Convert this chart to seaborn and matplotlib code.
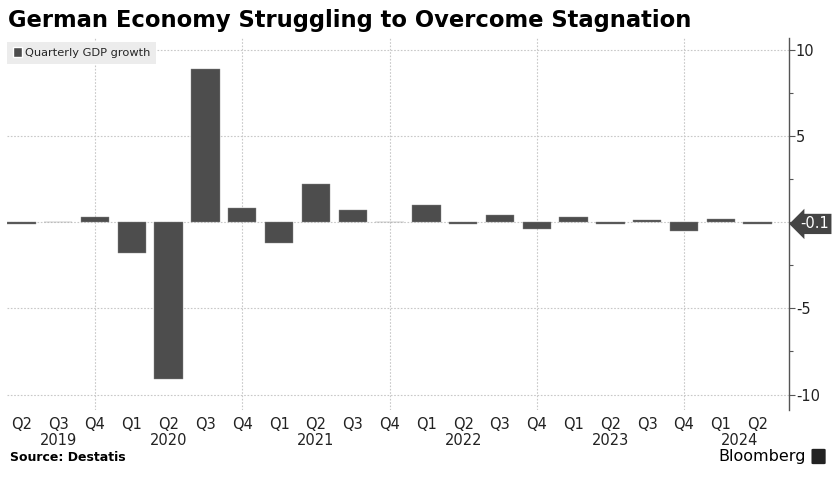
import numpy as np
import pandas as pd
import matplotlib
matplotlib.use('Agg')
import matplotlib.pyplot as plt
import seaborn as sns
from matplotlib.patches import Patch, FancyBboxPatch
from matplotlib.ticker import MultipleLocator
import matplotlib.transforms as mtransforms

# quarterly GDP growth, Q2 2019 .. Q2 2024
quarters = ['Q2', 'Q3', 'Q4',
            'Q1', 'Q2', 'Q3', 'Q4',
            'Q1', 'Q2', 'Q3', 'Q4',
            'Q1', 'Q2', 'Q3', 'Q4',
            'Q1', 'Q2', 'Q3', 'Q4',
            'Q1', 'Q2']
growth = [-0.1, 0.0, 0.3,
          -1.8, -9.1, 8.9, 0.8,
          -1.2, 2.2, 0.7, 0.0,
          1.0, -0.1, 0.4, -0.4,
          0.3, -0.1, 0.1, -0.5,
          0.2, -0.1]
years = ['2019', '2020', '2021', '2022', '2023', '2024']
year_pos = [1, 4, 8, 12, 16, 19.5]
q4_pos = [2, 6, 10, 14, 18]

df = pd.DataFrame({'idx': range(len(growth)), 'growth': growth})

sns.set_style('white')
plt.rcParams['font.family'] = ['DejaVu Sans']

fig = plt.figure(figsize=(8.34, 4.79), dpi=100)
ax = fig.add_axes([0.0084, 0.144, 0.946 - 0.0084, 0.921 - 0.144])

bar_col = '#4d4d4d'
sns.barplot(data=df, x='idx', y='growth', color=bar_col, width=0.77,
            edgecolor='#8a8a8a', linewidth=0.3, saturation=1, ax=ax)

ax.set_xlim(-0.39, 20.85)
ax.set_ylim(-10.9, 10.7)

# grid
for y in [-10, -5, 0, 5, 10]:
    ax.axhline(y, color='#c8c8c8', lw=0.8, ls=(0, (1.5, 1.5)), zorder=0)
for x in q4_pos:
    ax.axvline(x, color='#c8c8c8', lw=0.8, ls=(0, (1.5, 1.5)), zorder=0)

# spines
for s in ['top', 'left', 'bottom']:
    ax.spines[s].set_visible(False)
ax.spines['right'].set_color('#555555')
ax.spines['right'].set_linewidth(1.0)

ax.yaxis.tick_right()
ax.yaxis.set_major_locator(MultipleLocator(5))
ax.yaxis.set_minor_locator(MultipleLocator(2.5))
ax.tick_params(axis='y', which='major', direction='out', length=4, width=0.8,
               color='#555555', labelsize=10.5, labelcolor='#222222', pad=1)
ax.tick_params(axis='y', which='minor', direction='out', length=3, width=0.8,
               color='#555555')
ax.set_yticks([-10, -5, 0, 5, 10])
ax.set_yticklabels(['-10', '-5', '', '5', '10'])

ax.set_xticks(range(len(quarters)))
ax.set_xticklabels(quarters)
ax.tick_params(axis='x', length=0, labelsize=10.5, labelcolor='#222222', pad=5)
ax.set_xlabel('')
ax.set_ylabel('')

# year labels
trans = mtransforms.blended_transform_factory(ax.transData, ax.transAxes)
for yr, p in zip(years, year_pos):
    ax.text(p, -0.082, yr, transform=trans, ha='center', va='center',
            fontsize=10.5, color='#222222')

# last value tag
ax.annotate('-0.1', xy=(1.0, growth[-1]), xycoords=('axes fraction', 'data'),
            xytext=(8, 0), textcoords='offset points', ha='left', va='center',
            fontsize=10.5, color='white',
            bbox=dict(boxstyle='larrow,pad=0.18', fc='#444444', ec='none'),
            annotation_clip=False)

# legend
leg = ax.legend(handles=[Patch(facecolor=bar_col, label='Quarterly GDP growth')],
                loc='upper left', bbox_to_anchor=(0.0, 0.99), frameon=True,
                fontsize=8.2, handlelength=0.8, handleheight=0.9, handletextpad=0.25,
                borderpad=0.5, borderaxespad=0.0, fancybox=False)
leg.get_frame().set_facecolor('#ececec')
leg.get_frame().set_edgecolor('none')
leg.get_frame().set_alpha(1)

# title and footer
fig.text(0.0096, 0.958, 'German Economy Struggling to Overcome Stagnation',
         fontsize=16.3, fontweight='bold', ha='left', va='center', color='black')
fig.text(0.012, 0.045, 'Source: Destatis', fontsize=9, fontweight='bold',
         ha='left', va='center', color='black')
fig.text(0.966, 0.047, 'Bloomberg', fontsize=11.5, ha='right', va='center',
         color='black')
fig.patches.append(FancyBboxPatch((0.975, 0.033), 0.013, 0.028,
                                  boxstyle='round,pad=0.002', fc='#222222',
                                  ec='none', transform=fig.transFigure))

fig.savefig('out.png', dpi=100)
